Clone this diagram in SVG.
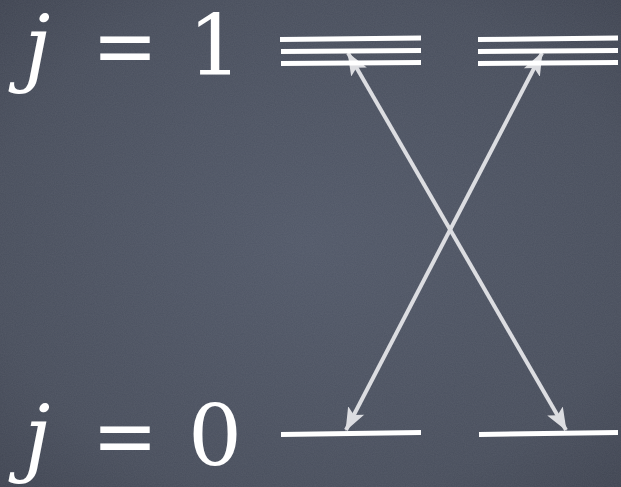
<svg xmlns="http://www.w3.org/2000/svg" width="621" height="487" viewBox="0 0 621 487">
  <style>
    .lvl { stroke: #ffffff; stroke-width: 5; stroke-linecap: butt; }
    .arr { stroke: #dcdde1; stroke-width: 4; fill: none; }
    .lbl { fill: #ffffff; }
  </style>
  <defs>
    <radialGradient id="bg" cx="0.5" cy="0.5" r="0.75">
      <stop offset="0" stop-color="#515868"/>
      <stop offset="0.7" stop-color="#484e5c"/>
      <stop offset="1" stop-color="#3d424f"/>
    </radialGradient>
    <filter id="noise" x="0" y="0" width="1" height="1">
      <feTurbulence type="fractalNoise" baseFrequency="0.9" numOctaves="2" seed="3" result="n"/>
      <feColorMatrix in="n" type="matrix" values="0 0 0 0 1  0 0 0 0 1  0 0 0 0 1  0 0 0 0.07 0"/>
    </filter>
    <marker id="ah" viewBox="0 0 24 20" markerWidth="24" markerHeight="20" refX="22" refY="10" orient="auto-start-reverse" markerUnits="userSpaceOnUse">
      <path d="M0,1 L23,10 L0,19 L5,10 Z" fill="#dcdde1"/>
    </marker>
  </defs>
  <rect width="621" height="487" fill="url(#bg)"/>
  <rect width="621" height="487" filter="url(#noise)"/>

  <g id="connectors">
    <line class="arr" x1="348" y1="53" x2="566" y2="430" marker-start="url(#ah)" marker-end="url(#ah)"/>
    <line class="arr" x1="542" y1="53" x2="346" y2="430" marker-start="url(#ah)" marker-end="url(#ah)"/>
  </g>

  <g id="level-j1-left">
    <line class="lvl" x1="280" y1="39.5" x2="421" y2="38"/>
    <line class="lvl" x1="281" y1="51.5" x2="421" y2="50.5"/>
    <line class="lvl" x1="281" y1="63.5" x2="421" y2="62.5"/>
  </g>
  <g id="level-j1-right">
    <line class="lvl" x1="478" y1="39.5" x2="618" y2="38"/>
    <line class="lvl" x1="478" y1="51.5" x2="618" y2="50.5"/>
    <line class="lvl" x1="478" y1="63.5" x2="618" y2="62.5"/>
  </g>
  <g id="level-j0-left">
    <line class="lvl" x1="281" y1="434.5" x2="421" y2="432.5"/>
  </g>
  <g id="level-j0-right">
    <line class="lvl" x1="479" y1="434.5" x2="618" y2="432.5"/>
  </g>

  <g id="label-j1" font-family="DejaVu Serif, Liberation Serif, serif" font-size="85">
    <text class="lbl" x="24" y="75" font-style="italic">j</text>
    <text class="lbl" x="92" y="75" textLength="66" lengthAdjust="spacingAndGlyphs">=</text>
    <text class="lbl" x="188" y="75">1</text>
  </g>
  <g id="label-j0" font-family="DejaVu Serif, Liberation Serif, serif" font-size="85">
    <text class="lbl" x="24" y="465" font-style="italic">j</text>
    <text class="lbl" x="92" y="465" textLength="66" lengthAdjust="spacingAndGlyphs">=</text>
    <text class="lbl" x="188" y="465">0</text>
  </g>
</svg>
